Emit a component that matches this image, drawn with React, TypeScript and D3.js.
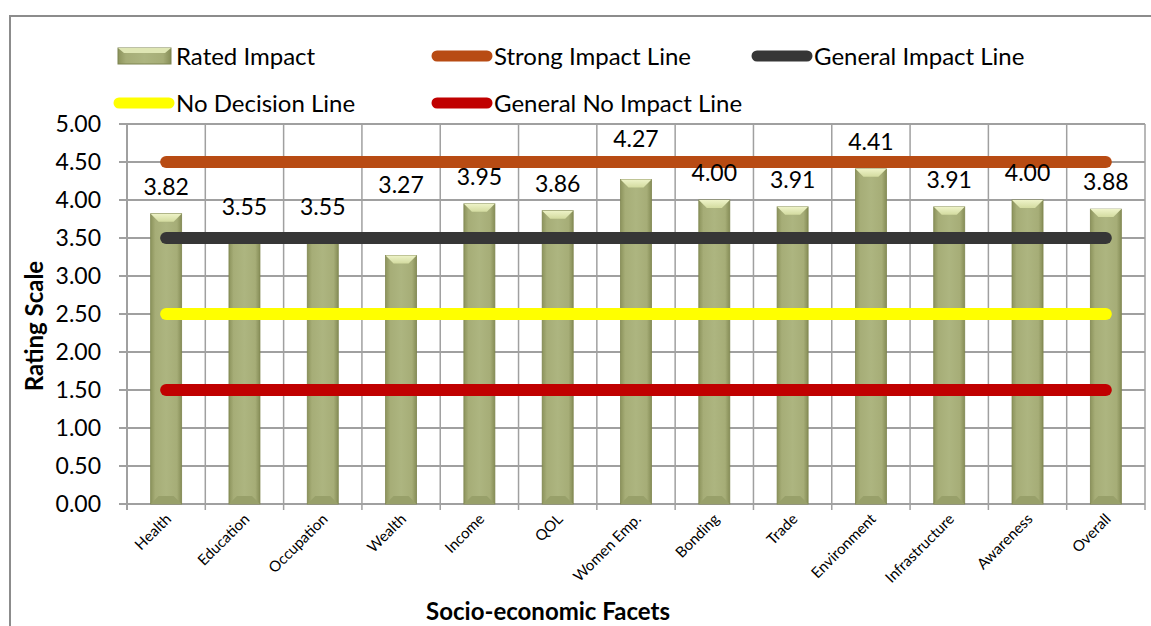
import React from "react";
import * as d3 from "d3";

const categories = [
  "Health", "Education", "Occupation", "Wealth", "Income", "QOL", "Women Emp.",
  "Bonding", "Trade", "Environment", "Infrastructure", "Awareness", "Overall",
];
const ratedImpact = [3.82, 3.55, 3.55, 3.27, 3.95, 3.86, 4.27, 4.0, 3.91, 4.41, 3.91, 4.0, 3.88];
const yTicks = [0, 0.5, 1, 1.5, 2, 2.5, 3, 3.5, 4, 4.5, 5];
const refLines = [
  { name: "Strong Impact Line", value: 4.5, color: "#B84B13" },
  { name: "General Impact Line", value: 3.5, color: "#363636" },
  { name: "No Decision Line", value: 2.5, color: "#FFFF00" },
  { name: "General No Impact Line", value: 1.5, color: "#C00000" },
];

const W = 1151;
const H = 626;
const FONT = "Lato, 'Open Sans', sans-serif";

// labels nudged up so they clear the reference lines
const labelLift: Record<string, number> = { Wealth: 62, "Women Emp.": 32 };

export default function App() {
  const left = 127;
  const right = 1145;
  const top = 124;
  const bottom = 504;

  const x = d3.scaleBand<string>().domain(categories).range([left, right]).padding(0);
  const y = d3.scaleLinear().domain([0, 5]).range([bottom, top]);
  const bw = 31;
  const bevel = 8;

  const first = (x(categories[0]) ?? 0) + x.bandwidth() / 2;
  const last = (x(categories[categories.length - 1]) ?? 0) + x.bandwidth() / 2;
  const boundaries = d3.range(categories.length + 1).map((i) => left + i * x.bandwidth());

  const fmt = d3.format(".2f");

  const legendRow1 = [
    { type: "bar", label: "Rated Impact", x: 118, color: "" },
    { type: "line", label: refLines[0].name, x: 432, color: refLines[0].color },
    { type: "line", label: refLines[1].name, x: 752, color: refLines[1].color },
  ];
  const legendRow2 = [
    { type: "line", label: refLines[2].name, x: 114, color: refLines[2].color },
    { type: "line", label: refLines[3].name, x: 432, color: refLines[3].color },
  ];

  const renderLegend = (items: typeof legendRow1, cy: number) =>
    items.map((it) => (
      <g key={it.label}>
        {it.type === "bar" ? (
          <g>
            <rect x={it.x} y={cy - 8} width={53} height={16} fill="url(#barGrad)" stroke="#7d8450" strokeWidth={1} />
            <polygon
              points={`${it.x},${cy - 8} ${it.x + 53},${cy - 8} ${it.x + 47},${cy - 3} ${it.x + 6},${cy - 3}`}
              fill="#dfe6b4"
            />
          </g>
        ) : (
          <line x1={it.x + 5} x2={it.x + 55} y1={cy} y2={cy} stroke={it.color} strokeWidth={11} strokeLinecap="round" />
        )}
        <text x={it.x + (it.type === "bar" ? 58 : 62)} y={cy + 9} fontSize={24} fontFamily={FONT} fill="#000">
          {it.label}
        </text>
      </g>
    ));

  return (
    <svg
      width={W}
      height={H}
      style={{ position: "fixed", left: 0, top: 0, background: "#fff" }}
      viewBox={`0 0 ${W} ${H}`}
    >
      <defs>
        <linearGradient id="barGrad" x1="0" x2="1" y1="0" y2="0">
          <stop offset="0" stopColor="#8c935c" />
          <stop offset="0.15" stopColor="#a6ad77" />
          <stop offset="0.5" stopColor="#adb580" />
          <stop offset="0.85" stopColor="#a6ad77" />
          <stop offset="1" stopColor="#868d57" />
        </linearGradient>
        <linearGradient id="bevelGrad" x1="0" x2="0" y1="0" y2="1">
          <stop offset="0" stopColor="#eef3c8" />
          <stop offset="1" stopColor="#d3dba0" />
        </linearGradient>
      </defs>

      <rect x={10} y={16} width={W} height={H} fill="#fff" stroke="#8c8c8c" strokeWidth={2} />

      {/* grid */}
      {yTicks.map((t) => (
        <line key={`h${t}`} x1={left - 8} x2={right} y1={y(t)} y2={y(t)} stroke="#a0a0a0" strokeWidth={2} />
      ))}
      {boundaries.map((b, i) => (
        <line key={`v${i}`} x1={b} x2={b} y1={top} y2={bottom + 6} stroke="#a0a0a0" strokeWidth={i === 0 ? 2 : 1.5} />
      ))}

      {/* y tick labels */}
      {yTicks.map((t) => (
        <text key={`yt${t}`} x={101} y={y(t) + 8} textAnchor="end" fontSize={23} fontFamily={FONT} fill="#000">
          {fmt(t)}
        </text>
      ))}

      {/* bars */}
      {categories.map((c, i) => {
        const cx = (x(c) ?? 0) + x.bandwidth() / 2;
        const x0 = cx - bw / 2;
        const yt = y(ratedImpact[i]);
        const h = bottom - yt;
        return (
          <g key={c}>
            <rect x={x0} y={yt} width={bw} height={h} fill="url(#barGrad)" stroke="#7f864f" strokeWidth={0.8} />
            <polygon
              points={`${x0},${yt} ${x0 + bw},${yt} ${x0 + bw - bevel},${yt + bevel} ${x0 + bevel},${yt + bevel}`}
              fill="url(#bevelGrad)"
            />
            <polygon
              points={`${x0},${bottom} ${x0 + bw},${bottom} ${x0 + bw - bevel},${bottom - bevel} ${x0 + bevel},${bottom - bevel}`}
              fill="#98a06a"
            />
          </g>
        );
      })}

      {/* reference lines */}
      {refLines.map((r) => (
        <line
          key={r.name}
          x1={first}
          x2={last}
          y1={y(r.value)}
          y2={y(r.value)}
          stroke={r.color}
          strokeWidth={12}
          strokeLinecap="round"
        />
      ))}

      {/* value labels */}
      {categories.map((c, i) => {
        const cx = (x(c) ?? 0) + x.bandwidth() / 2;
        return (
          <text
            key={`v${c}`}
            x={cx}
            y={y(ratedImpact[i]) - (labelLift[c] ?? 19)}
            textAnchor="middle"
            fontSize={23}
            fontFamily={FONT}
            fill="#000"
          >
            {fmt(ratedImpact[i])}
          </text>
        );
      })}

      {/* x labels */}
      {categories.map((c) => {
        const cx = (x(c) ?? 0) + x.bandwidth() / 2 + 6;
        const ly = bottom + 16;
        return (
          <text
            key={`xl${c}`}
            x={cx}
            y={ly}
            transform={`rotate(-45, ${cx}, ${ly})`}
            textAnchor="end"
            fontSize={15}
            fontFamily={FONT}
            fill="#000"
          >
            {c}
          </text>
        );
      })}

      {/* axis titles */}
      <text x={548} y={620} textAnchor="middle" fontSize={24} fontWeight="bold" fontFamily={FONT} fill="#000">
        Socio-economic Facets
      </text>
      <text
        x={43}
        y={326}
        transform="rotate(-90, 43, 326)"
        textAnchor="middle"
        fontSize={24}
        fontWeight="bold"
        fontFamily={FONT}
        fill="#000"
      >
        Rating Scale
      </text>

      {/* legend */}
      {renderLegend(legendRow1, 56)}
      {renderLegend(legendRow2, 103)}
    </svg>
  );
}
